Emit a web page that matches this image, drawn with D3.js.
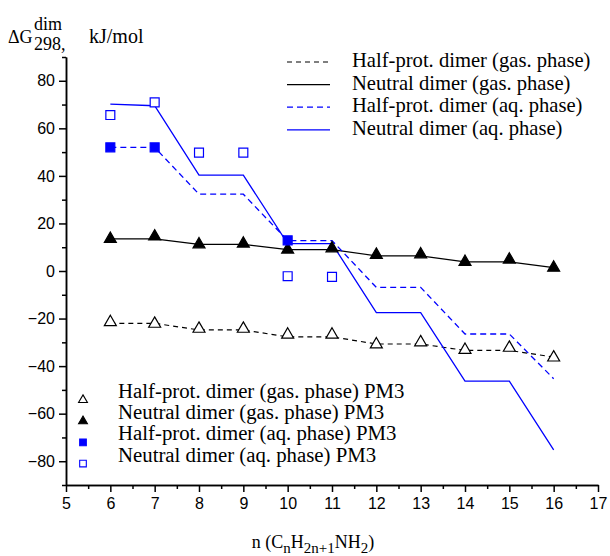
<!DOCTYPE html>
<html>
<head>
<meta charset="utf-8">
<script src="https://cdnjs.cloudflare.com/ajax/libs/d3/7.8.5/d3.min.js"></script>
<style>
  body { margin: 0; background: #fff; }
  .tick text { font-family: "Liberation Sans", Arial, sans-serif; font-size: 16px; fill: #000; }
  .serif { font-family: "Liberation Serif", "Times New Roman", serif; fill: #000; }
</style>
</head>
<body>
<svg id="chart" width="610" height="556"></svg>
<script>
// chain length n
const nAll = [6, 7, 8, 9, 10, 11, 12, 13, 14, 15, 16];

// model lines
const halfGasLine    = [-22, -22, -24.8, -24.8, -27.7, -27.7, -30.7, -30.7, -33.4, -33.4, -36.2];
const neutralGasLine = [13.5, 13.5, 11.2, 11.2, 9, 9, 6.4, 6.4, 3.8, 3.8, 1.4];
const halfAqLine     = [52, 52, 32.3, 32.3, 12.8, 12.8, -6.9, -6.9, -26.5, -26.5, -45.3];
const neutralAqLine  = [70.2, 69.5, 40.3, 40.3, 11.5, 11.5, -17.5, -17.5, -46.3, -46.3, -75.2];

// PM3 points
const halfGasPM3    = [-21.5, -22.2, -24.3, -24.3, -26.8, -26.8, -30.9, -30, -33.2, -32.3, -36.4];
const neutralGasPM3 = [13.5, 14.5, 11.2, 11.5, 9, 9.5, 6.8, 7, 3.8, 4.8, 1.4];
const halfAqN   = [6, 7, 10];
const halfAqPM3 = [52, 52, 12.9];
const neutralAqN   = [6, 7, 8, 9, 10, 11];
const neutralAqPM3 = [65.6, 70.9, 49.8, 49.8, -2.2, -2.5];

const xTicks = d3.range(5, 18, 1);
const yTicks = [-80, -60, -40, -20, 0, 20, 40, 60, 80];

const lineNames = ['Half-prot. dimer (gas. phase)', 'Neutral dimer (gas. phase)',
                   'Half-prot. dimer (aq. phase)', 'Neutral dimer (aq. phase)'];
const pointNames = lineNames.map(s => s + ' PM3');

const svg = d3.select('#chart');
const blue = '#0000ff';

const x = d3.scaleLinear().domain([5, 17]).range([66, 598]);
const y = d3.scaleLinear().domain([-90, 90]).range([485, 57]);

// axes
svg.append('g')
  .attr('transform', `translate(${x(5)},0)`)
  .call(d3.axisLeft(y).tickValues(d3.range(-90, 91, 10).filter(v => v % 20 !== 0)).tickSize(4).tickSizeOuter(0).tickFormat(''))
  .call(g => g.selectAll('line,path').attr('stroke', '#000').attr('stroke-width', 1.5));
svg.append('g')
  .attr('transform', `translate(${x(5)},0)`)
  .call(d3.axisLeft(y).tickValues(yTicks).tickSize(7).tickSizeOuter(0).tickPadding(4))
  .call(g => g.selectAll('line,path').attr('stroke', '#000').attr('stroke-width', 1.5));

svg.append('g')
  .attr('transform', `translate(0,${y(-90)})`)
  .call(d3.axisBottom(x).tickValues(d3.range(5.5, 17, 1)).tickSize(4).tickSizeOuter(0).tickFormat(''))
  .call(g => g.selectAll('line,path').attr('stroke', '#000').attr('stroke-width', 1.5));
svg.append('g')
  .attr('transform', `translate(0,${y(-90)})`)
  .call(d3.axisBottom(x).tickValues(xTicks).tickSize(7).tickSizeOuter(0).tickPadding(6).tickFormat(d3.format('d')))
  .call(g => g.selectAll('line,path').attr('stroke', '#000').attr('stroke-width', 1.5));

// lines
const line = d3.line().x((d, i) => x(nAll[i])).y(d => y(d));
const lineStyles = [
  { data: halfGasLine, color: '#000', dash: '5,4', w: 1.2 },
  { data: neutralGasLine, color: '#000', dash: null, w: 1.2 },
  { data: halfAqLine, color: blue, dash: '6,4', w: 1.3 },
  { data: neutralAqLine, color: blue, dash: null, w: 1.3 }
];
lineStyles.forEach(s => {
  svg.append('path')
    .datum(s.data)
    .attr('d', line)
    .attr('fill', 'none')
    .attr('stroke', s.color)
    .attr('stroke-width', s.w)
    .attr('stroke-dasharray', s.dash);
});

// markers
const tri = d3.symbol(d3.symbolTriangle, 62)();
const triSmall = d3.symbol(d3.symbolTriangle, 34)();
const sq = d3.symbol(d3.symbolSquare, 80)();
const sqSmall = d3.symbol(d3.symbolSquare, 44)();

const pointSets = [
  { n: nAll, v: halfGasPM3, path: tri, small: triSmall, fill: '#fff', stroke: '#000' },
  { n: nAll, v: neutralGasPM3, path: tri, small: triSmall, fill: '#000', stroke: '#000' },
  { n: halfAqN, v: halfAqPM3, path: sq, small: sqSmall, fill: blue, stroke: blue },
  { n: neutralAqN, v: neutralAqPM3, path: sq, small: sqSmall, fill: '#fff', stroke: blue }
];
pointSets.forEach(p => {
  svg.append('g').selectAll('path')
    .data(p.v)
    .enter().append('path')
      .attr('d', p.path)
      .attr('transform', (d, i) => `translate(${x(p.n[i])},${y(d)})`)
      .attr('fill', p.fill)
      .attr('stroke', p.stroke)
      .attr('stroke-width', 1.2);
});

// top legend (lines)
const legTop = svg.append('g').attr('transform', 'translate(287,0)');
lineStyles.forEach((s, i) => {
  const yy = 62 + i * 22.6;
  legTop.append('line')
    .attr('x1', 0).attr('x2', 43).attr('y1', yy).attr('y2', yy)
    .attr('stroke', s.color).attr('stroke-width', s.w)
    .attr('stroke-dasharray', s.dash);
  legTop.append('text')
    .attr('class', 'serif')
    .attr('x', 65).attr('y', yy + 5)
    .attr('font-size', 20.6)
    .text(lineNames[i]);
});

// bottom legend (points)
const legBot = svg.append('g');
pointSets.forEach((p, i) => {
  const yy = 398 + i * 21.2;
  legBot.append('path')
    .attr('d', p.small)
    .attr('transform', `translate(83,${yy + 2})`)
    .attr('fill', p.fill)
    .attr('stroke', p.stroke)
    .attr('stroke-width', 1.1);
  legBot.append('text')
    .attr('class', 'serif')
    .attr('x', 118).attr('y', yy)
    .attr('font-size', 20.8)
    .text(pointNames[i]);
});

// y label
svg.append('text').attr('class', 'serif').attr('x', 8).attr('y', 43)
  .attr('font-size', 18).text('ΔG');
svg.append('text').attr('class', 'serif').attr('x', 34).attr('y', 30)
  .attr('font-size', 18).text('dim');
svg.append('text').attr('class', 'serif').attr('x', 34).attr('y', 50)
  .attr('font-size', 18).text('298,');
svg.append('text').attr('class', 'serif').attr('x', 89).attr('y', 43)
  .attr('font-size', 20).text('kJ/mol');

// x label
const xl = svg.append('text').attr('class', 'serif')
  .attr('x', 313).attr('y', 548)
  .attr('text-anchor', 'middle')
  .attr('font-size', 18);
xl.append('tspan').text('n (C');
xl.append('tspan').attr('dy', 5).attr('font-size', 15).text('n');
xl.append('tspan').attr('dy', -5).text('H');
xl.append('tspan').attr('dy', 5).attr('font-size', 15).text('2n+1');
xl.append('tspan').attr('dy', -5).text('NH');
xl.append('tspan').attr('dy', 5).attr('font-size', 15).text('2');
xl.append('tspan').attr('dy', -5).text(')');
</script>
</body>
</html>
